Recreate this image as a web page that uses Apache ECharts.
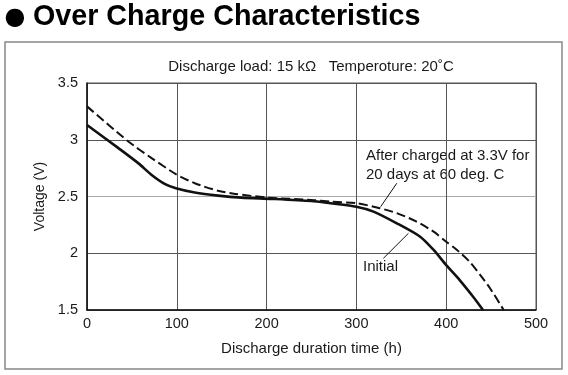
<!DOCTYPE html>
<html><head><meta charset="utf-8">
<script src="https://cdn.jsdelivr.net/npm/echarts@6/dist/echarts.min.js"></script>
<style>html,body{margin:0;padding:0;background:#fff}#c{width:568px;height:375px}</style>
</head><body><div id="c"></div>
<script>
var initialHours = [0,35,57,72,87,99,120,146,172,206,250,271,300,319,345,371,386,400,415,430,441];
var initialVolts = [3.13,2.926,2.794,2.69,2.609,2.573,2.535,2.508,2.49,2.479,2.46,2.44,2.41,2.367,2.264,2.146,2.029,1.896,1.764,1.617,1.5];
var chargedHours = [0,46,72,99,120,146,165,202,250,271,300,326,345,367,386,400,412,426,438,449,464];
var chargedVolts = [3.294,2.985,2.838,2.697,2.617,2.55,2.523,2.49,2.47,2.455,2.441,2.397,2.353,2.279,2.19,2.102,2.029,1.926,1.808,1.69,1.5];
var xTicks = [0,100,200,300,400,500];
var yTicks = [1.5,2,2.5,3,3.5];
var leaderCharged = [[345,2.617],[327,2.41]];
var leaderInitial = [[330,1.955],[358,2.176]];

function pairs(xs, ys){ return xs.map(function(x,i){ return [x, ys[i]]; }); }
var F = 'Liberation Sans, Arial, Helvetica, sans-serif';
var chart = echarts.init(document.getElementById('c'));
chart.setOption({
  animation: false,
  grid: {left: 87, right: 32, top: 83, bottom: 65, show: true, borderColor: '#555', borderWidth: 1},
  xAxis: {type: 'value', min: xTicks[0], max: xTicks[xTicks.length-1], interval: 100,
    name: 'Discharge duration time (h)', nameLocation: 'middle', nameGap: 31,
    nameTextStyle: {fontFamily: F, fontSize: 15, color: '#1a1a1a'},
    axisLine: {show: true, lineStyle: {color: '#111', width: 1.5}},
    axisTick: {show: false},
    axisLabel: {fontFamily: F, fontSize: 14.5, color: '#1a1a1a', margin: 6},
    splitLine: {show: true, lineStyle: {color: '#555', width: 1}}},
  yAxis: {type: 'value', min: yTicks[0], max: yTicks[yTicks.length-1], interval: 0.5,
    name: 'Voltage (V)', nameLocation: 'middle', nameGap: 34,
    nameTextStyle: {fontFamily: F, fontSize: 14, color: '#1a1a1a'},
    axisLine: {show: true, lineStyle: {color: '#111', width: 1.5}},
    axisTick: {show: false},
    axisLabel: {fontFamily: F, fontSize: 14.5, color: '#1a1a1a', margin: 9},
    splitLine: {show: true, lineStyle: {color: ['#555','#555','#aaa','#555','#555'], width: 1}}},
  series: [
    {type: 'line', name: 'After charged', data: pairs(chargedHours, chargedVolts), smooth: 0.25,
      showSymbol: false, lineStyle: {color: '#111', width: 2, type: [9,4]}, silent: true},
    {type: 'line', name: 'Initial', data: pairs(initialHours, initialVolts), smooth: 0.25,
      showSymbol: false, lineStyle: {color: '#111', width: 2.6}, silent: true},
    {type: 'line', data: leaderCharged, showSymbol: false, lineStyle: {color: '#111', width: 1}, silent: true},
    {type: 'line', data: leaderInitial, showSymbol: false, lineStyle: {color: '#111', width: 1}, silent: true}
  ],
  graphic: [
    {type: 'rect', shape: {x: 5, y: 42, width: 557, height: 327}, style: {fill: 'none', stroke: '#888', lineWidth: 1.5}, z: -1},
    {type: 'text', x: 15, y: 18, style: {text: '\u25CF', font: '24px DejaVu Sans', fill: '#000', textAlign: 'center', textVerticalAlign: 'middle'}},
    {type: 'text', x: 33, y: 17, style: {text: 'Over Charge Characteristics', font: 'bold 28.7px ' + F, fill: '#000', textVerticalAlign: 'middle'}},
    {type: 'text', x: 311, y: 67, style: {text: 'Discharge load: 15 k\u03A9   Temperoture: 20\u02DAC', font: '15px ' + F, fill: '#1a1a1a', textAlign: 'center', textVerticalAlign: 'middle'}},
    {type: 'text', x: 366, y: 156, style: {text: 'After charged at 3.3V for', font: '15px ' + F, fill: '#1a1a1a', textVerticalAlign: 'middle'}},
    {type: 'text', x: 366, y: 175, style: {text: '20 days at 60 deg. C', font: '15px ' + F, fill: '#1a1a1a', textVerticalAlign: 'middle'}},
    {type: 'text', x: 363, y: 267, style: {text: 'Initial', font: '15px ' + F, fill: '#1a1a1a', textVerticalAlign: 'middle'}}
  ]
});
</script></body></html>
